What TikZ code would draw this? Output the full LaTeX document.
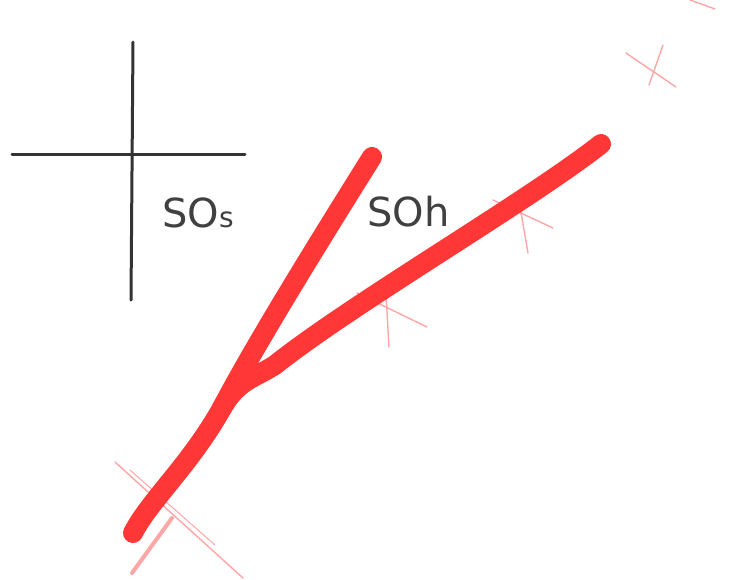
\documentclass[tikz,border=0pt]{standalone}
\usepackage{fontspec}
\setmainfont{DejaVu Sans}
\definecolor{marker}{RGB}{255,55,55}
\begin{document}
\begin{tikzpicture}[x=1pt,y=-1pt,
  axis/.style={draw=black!80,line width=3pt,line cap=round},
  marker/.style={draw=marker,line width=20pt,line cap=round,line join=round},
  tick/.style={draw=red!35,line width=1.4pt,line cap=round},
  hand/.style={text=black!75,inner sep=0pt,font=\fontsize{40}{40}\selectfont}]
\useasboundingbox[fill=white] (0,0) rectangle (734,579);
% axes cross
\coordinate (hl) at (12,154); \coordinate (hr) at (245,154);
\coordinate (vt) at (133,42); \coordinate (vb) at (131,300);
\draw[axis] (hl) -- (hr);
\draw[axis] (vt) -- (vb);
% labels
\node[hand,anchor=west] (sos) at (162,213) {SO{\fontsize{28}{28}\selectfont s}};
\node[hand,anchor=west] (soh) at (367,212) {SOh};
% pink crosses
\coordinate (a1) at (357,293); \coordinate (a2) at (427,327);
\coordinate (a3) at (385,277); \coordinate (a4) at (389,347);
\draw[tick] (a1) -- (a2); \draw[tick] (a3) -- (a4);
\coordinate (b1) at (493,200); \coordinate (b2) at (553,228);
\coordinate (b3) at (518,195); \coordinate (b4) at (528,253);
\draw[tick] (b1) -- (b2); \draw[tick] (b3) -- (b4);
\coordinate (c1) at (115,462); \coordinate (c2) at (243,578);
\coordinate (c3) at (130,470); \coordinate (c4) at (215,545);
\coordinate (c5) at (172,518); \coordinate (c6) at (132,573);
\draw[tick] (c1) -- (c2); \draw[tick,line width=1pt] (c3) -- (c4); \draw[tick,line width=4pt] (c5) -- (c6);
\coordinate (d1) at (626,53); \coordinate (d2) at (676,87);
\coordinate (d3) at (663,45); \coordinate (d4) at (649,85);
\draw[tick] (d1) -- (d2); \draw[tick] (d3) -- (d4);
\coordinate (e1) at (690,0); \coordinate (e2) at (715,9);
\draw[tick] (e1) -- (e2);
% red marker strokes
\coordinate (s1) at (372,157); \coordinate (m) at (222,408);
\coordinate (s2) at (601,144); \coordinate (end) at (133,533);
\coordinate (k) at (275,365);
\draw[marker] (s1) .. controls (320,240) and (255,345) .. (m)
  .. controls (190,465) and (150,500) .. (end);
\draw[marker] (s2) .. controls (530,200) and (350,305) .. (k)
  .. controls (255,378) and (238,380) .. (m);
\end{tikzpicture}
\end{document}
